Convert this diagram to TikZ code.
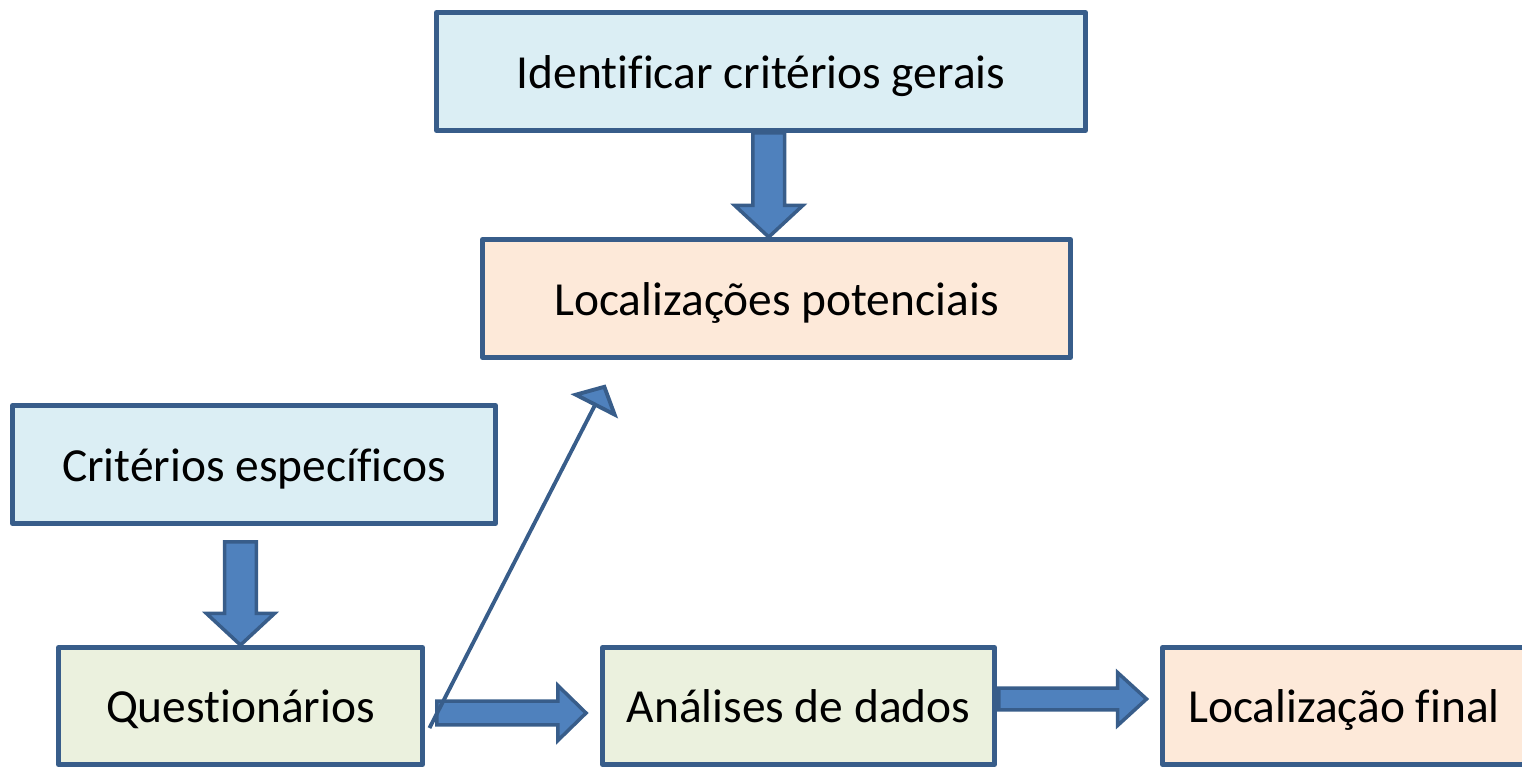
\documentclass[tikz,border=0pt]{standalone}
\usepackage{fontspec}
\setmainfont{Carlito}[Ligatures={NoCommon,NoContextual}]
\usepackage{xcolor}
\usetikzlibrary{arrows.meta, calc, positioning}

\definecolor{edgeblue}{HTML}{385D8A}
\definecolor{arrowblue}{HTML}{4F81BD}
\definecolor{paleblue}{HTML}{DBEEF4}
\definecolor{palepeach}{HTML}{FDE9D9}
\definecolor{palegreen}{HTML}{EBF1DE}

\tikzset{
    box/.style={draw=edgeblue, line width=1.4pt, line join=round, inner sep=0pt,
        text height=12pt, text depth=2.5pt,
        minimum height=1.18cm, font=\fontsize{13.5}{16}\selectfont},
    blockarrow/.style n args={3}{draw=edgeblue, fill=arrowblue, line width=1pt, line join=miter,
        to path={let \p1=(\tikztostart), \p2=(\tikztotarget),
            \n1={veclen(\x2-\x1,\y2-\y1)}, \n2={atan2(\y2-\y1,\x2-\x1)} in
            {[shift={(\p1)}, rotate=\n2]
            (0pt,-#1) -- ({\n1-#3},-#1) -- ({\n1-#3},-#2) -- ({\n1+0pt},0pt)
            -- ({\n1-#3},#2) -- ({\n1-#3},#1) -- (0pt,#1) -- cycle}}},
}

\begin{document}
\begin{tikzpicture}
    \useasboundingbox (0,0) rectangle (15.22,-7.68);

    % Boxes
    \node[box, fill=paleblue, minimum width=6.49cm] (idc) at (7.61,-0.715) {Identificar critérios gerais};
    \node[box, fill=palepeach, minimum width=5.88cm] (pot) at (7.765,-2.985) {Localizações potenciais};
    \node[box, fill=paleblue, minimum width=4.83cm] (esp) at (2.54,-4.645) {Critérios específicos};
    \node[box, fill=palegreen, minimum width=3.64cm, minimum height=1.17cm] (que) at (2.405,-7.06) {Questionários};
    \node[box, fill=palegreen, minimum width=3.92cm, minimum height=1.17cm] (ana) at (7.985,-7.06) {Análises de dados};
    \node[box, fill=palepeach, minimum width=3.63cm, minimum height=1.17cm] (fin) at (13.44,-7.06) {Localização final};

    % Block arrows
    \coordinate (m1) at ($(idc.south)!0.5!(pot.north)$);
    \draw[blockarrow={4.5pt}{9.7pt}{9pt}] (idc.south -| m1) to (pot.north -| m1);
    \draw[blockarrow={4.5pt}{9.7pt}{9pt}] ($(esp.south -| que.north)+(0,-0.16)$) to (que.north);
    \draw[blockarrow={3.4pt}{7.8pt}{8pt}] ($(que.east)+(0.12,-0.07)$) to ($(ana.west)+(-0.14,-0.07)$);
    \draw[blockarrow={3.1pt}{7.5pt}{8.2pt}] ($(ana.east)+(0.02,0.07)$) to ($(fin.west)+(-0.135,0.07)$);

    % Thin arrow up to the potential locations
    \draw[draw=edgeblue, line width=1.1pt, -{Triangle[length=7pt, width=15pt, fill=arrowblue]}]
        ($(que.east)+(0.045,-0.22)$) -- ($(pot.south west)+(1.255,-0.245)$);
\end{tikzpicture}
\end{document}
